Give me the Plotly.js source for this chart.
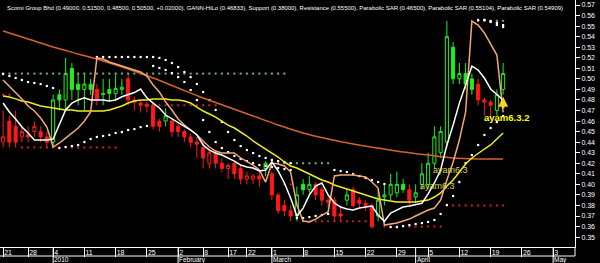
<!DOCTYPE html>
<html><head><meta charset="utf-8">
<script src="https://cdn.plot.ly/plotly-3.0.1.min.js"></script>
<style>html,body{margin:0;padding:0;background:#000;}#chart{width:600px;height:263px;}</style>
</head><body><div id="chart"></div>
<script>
// ---- tick labels ----
const weekTickIdx  = [0,4,8,13,18,23,28,32,36,39,43,48,53,58,63,68,73,78,83,88];
const weekTickText = ['21','28','4','11','18','25','2','8','17','22','1','8','15','22','29','5','12','19','26','3'];
const monthIdx  = [8,28,43,66,88];
const monthText = ['2010','February','March','April','May'];

// ---- candles (Scomi Group Bhd) ----
const open  = [.440,.460,.455,.445,.447,.450,.450,.445,.440,.485,.480,.510,.495,.490,.495,.490,.485,.490,.486,.490,
               .500,.480,.477,.476,.475,.460,.460,.460,.455,.450,.445,.440,.435,.420,.430,.420,.415,.420,.415,.405,
               .405,.408,.415,.410,.390,.380,.375,.370,.400,.395,.400,.395,.385,.385,.372,.385,.395,.385,.382,.380,
               .370,.388,.390,.392,.400,.395,.388,.400,.400,.420,.430,.440,.530,.500,.505,.500,.495,.480,.478,.470,.490];
const high  = [.470,.465,.470,.455,.455,.460,.455,.450,.485,.490,.520,.515,.505,.505,.500,.495,.500,.500,.505,.500,
               .505,.483,.480,.478,.478,.462,.472,.462,.458,.452,.448,.445,.440,.432,.432,.425,.420,.422,.418,.412,
               .410,.412,.422,.412,.392,.385,.380,.398,.405,.408,.402,.398,.390,.388,.380,.395,.398,.388,.385,.382,
               .395,.400,.410,.412,.405,.400,.400,.420,.430,.455,.455,.555,.535,.515,.515,.505,.500,.482,.480,.490,.515];
const low   = [.435,.435,.435,.440,.440,.445,.440,.435,.435,.470,.470,.480,.475,.470,.485,.475,.475,.480,.480,.485,
               .475,.470,.468,.468,.452,.450,.455,.445,.445,.440,.435,.425,.415,.415,.415,.412,.405,.405,.400,.400,
               .400,.398,.408,.385,.372,.370,.365,.365,.390,.392,.385,.380,.378,.365,.365,.380,.378,.378,.375,.358,
               .365,.380,.385,.388,.392,.380,.382,.395,.395,.415,.425,.435,.495,.495,.490,.485,.475,.465,.462,.465,.485];
const close = [.445,.440,.440,.450,.445,.455,.445,.440,.480,.480,.505,.490,.490,.495,.490,.480,.486,.486,.491,.492,
               .480,.478,.475,.474,.455,.455,.465,.450,.450,.445,.440,.438,.425,.430,.420,.415,.418,.410,.405,.408,
               .408,.405,.420,.390,.375,.375,.370,.390,.395,.400,.390,.385,.383,.370,.370,.390,.380,.382,.380,.360,
               .385,.390,.400,.400,.395,.385,.392,.410,.420,.445,.450,.540,.500,.505,.495,.490,.480,.478,.475,.485,.505];
// 1 = green (up trend colour), 0 = red
const trend = [0,0,0,0,0,0,0,0,1,1,1,1,1,1,1,0,1,1,1,1,
               0,0,0,0,0,0,1,0,0,0,0,0,0,0,0,0,0,0,0,0,
               0,0,1,0,0,0,0,1,1,1,0,0,0,0,0,1,0,0,0,0,
               1,1,1,1,1,0,1,1,1,1,1,1,1,1,1,1,0,0,0,1,1];

// ---- indicator lines ----
const maSlowIdx = [0,4,8,12,16,20,24,28,32,36,40,44,48,52,56,60,64,68,72,76,80];
const maSlow    = [.5453,.5378,.5302,.5236,.5169,.5093,.5008,.4913,.4818,.4733,.4648,.4562,.4487,.4430,.4382,.4344,.4306,.4278,.4250,.4241,.4241];
const maMid = [.4837,.4828,.4810,.4790,.4780,.4762,.4743,.4733,.4724,.4714,
               .4705,.4705,.4695,.4695,.4695,.4695,.4695,.4705,.4724,.4743,
               .4771,.4790,.4799,.4799,.4809,.4809,.4809,.4799,.4799,.4790,
               .4771,.4733,.4695,.4667,.4638,.4600,.4562,.4534,.4496,.4458,
               .4411,.4373,.4335,.4297,.4259,.4212,.4174,.4155,.4127,.4098,
               .4070,.4041,.4022,.3994,.3975,.3956,.3937,.3918,.3899,.3880,
               .3861,.3851,.3842,.3832,.3832,.3832,.3832,.3842,.3851,.3880,
               .3918,.3984,.4041,.4117,.4193,.4250,.4297,.4335,.4373,.4430,.4487];
const maFast = [.4771,.4686,.4620,.4543,.4487,.4420,.4420,.4420,.4430,.4560,
                .4705,.4770,.4800,.4820,.4800,.4800,.4800,.4790,.4800,.4830,
                .4850,.4870,.4904,.4820,.4770,.4724,.4657,.4620,.4591,.4550,
                .4515,.4470,.4373,.4325,.4297,.4278,.4250,.4220,.4183,.4164,
                .4155,.4127,.4136,.4212,.4127,.4013,.3870,.3700,.3775,.3900,
                .3984,.4013,.3900,.3823,.3785,.3766,.3757,.3775,.3785,.3795,
                .3710,.3650,.3728,.3757,.3785,.3795,.3810,.3820,.3910,.4013,
                .4136,.4373,.4562,.4770,.4942,.5120,.5084,.5008,.4904,.4856,.4800];
const gannHiLo = [.4989,.4932,.4875,.4809,.4743,.4695,.4629,.4543,.4354,.4392,
                  .4439,.4487,.4534,.4600,.4686,.5198,.5188,.5160,.5141,.5122,
                  .5103,.5084,.5065,.5027,.4942,.4875,.4780,.4705,.4620,.4562,
                  .4515,.4468,.4411,.4354,.4316,.4297,.4297,.4297,.4250,.4220,
                  .4183,.4136,.4022,.4202,.4193,.4174,.4117,.3804,.3652,.3643,
                  .3671,.3709,.3738,.4079,.4089,.4089,.4089,.4079,.4070,.4022,
                  .3965,.3614,.3624,.3633,.3652,.3671,.3700,.3728,.3757,.3775,
                  .3851,.4041,.4212,.4420,.4686,.5548,.5510,.5435,.5330,.5226,.4683];

// ---- parabolic SAR dots ----
const sarA = [.5046,.5027,.5008,.4989,.4970,.4961,.4951,.4932,.4913,
              .4344,.4354,.4363,.4373,.4401,.4430,.4449,.4458,.4468,.4487,.4496,.4515,.4524,.4543,.4553,
              .5122,.5103,.5084,.5055,.5017,.4970,.4894,.4799,.4610,.4496,.4401,.4344,.4306,.4269,.4240,.4221,.4202,.4183,.4174,.4164,.4155,.4145,.4136,
              .3681,.3681,.3690,.3700,.3709,.3719,
              .4136,.4126,.4117,.4098,.4079,.4060,.4041,.4022,.4003,
              .3595,.3595,.3605,.3614,.3624,.3633,.3643,.3662,.3719,.3804,.3889,.4022,.4202,.4278,.4373,.4468,.4534,.4591,.4648];
const sarB = [null,null,null,null,null,null,null,null,null,null,null,null,null,null,null,
              .5207,.5207,.5207,.5207,.5207,.5207,.5207,.5207,.5207,
              .5207,.5198,.5179,.5150,.5112,.5065,.5017,.4951,.4875,.4799,.4705,.4591,.4496,.4420,.4363,.4325,.4297,.4269,.4250,.4231,.4221,.4212,.4202,
              null,null,null,null,null,null,null,null,null,null,null,null,null,null,null,null,null,null,null,null,null,null,null,null,null,null,null,null,null,
              .5558,.5558,.5548,.5530,.5510];
const sarC = [null,null,null,null,null,null,null,null,null,null,null,null,null,null,null,null,null,null,null,null,
              null,null,null,null,null,null,null,null,null,null,null,null,null,null,null,null,null,null,null,null,
              null,null,null,null,null,null,null,null,null,null,null,null,null,null,null,null,null,null,null,null,
              null,null,null,null,null,null,null,null,null,null,null,null,null,null,null,null,null,
              .5558,.5539,.5510,.5491];

// ---- support / resistance levels (start day, end day, level) ----
const resStart = [0,44,76], resEnd = [45,52,80], resLevel = [.505,.420,.555];
const supStart = [0,3,22,45,48,61,71], supEnd = [1,18,34,46,58,70,80], supLevel = [.485,.435,.475,.400,.365,.360,.380];

// ---------------------------------------------------------------
const idx = open.map((_, i) => i);
const GREEN = '#22ee22', RED = '#ff1a1a';
function candleTrace(flag, col) {
  const s = idx.filter(i => trend[i] === flag);
  return {
    type: 'candlestick', x: s,
    open: s.map(i => open[i]), high: s.map(i => high[i]),
    low: s.map(i => low[i]), close: s.map(i => close[i]),
    increasing: {line: {color: col, width: 1}, fillcolor: '#000'},
    decreasing: {line: {color: col, width: 1}, fillcolor: col},
    whiskerwidth: 0, hoverinfo: 'skip', showlegend: false
  };
}
function levelTrace(st, en, lv, col) {
  const xs = [], ys = [];
  st.forEach((s, k) => { for (let i = s; i <= en[k]; i++) { xs.push(i); ys.push(lv[k]); } });
  return {type: 'scatter', mode: 'markers', x: xs, y: ys,
          marker: {symbol: 'square', size: 2, color: col, line: {width: 0}}, hoverinfo: 'skip', showlegend: false};
}
function dotTrace(arr) {
  const s = idx.filter(i => arr[i] !== null && arr[i] !== undefined);
  return {type: 'scatter', mode: 'markers', x: s, y: s.map(i => arr[i]),
          marker: {symbol: 'square', size: 2.2, color: '#ffffff', line: {width: 0}}, hoverinfo: 'skip', showlegend: false};
}
function lineTrace(xs, ys, col, shape) {
  return {type: 'scatter', mode: 'lines', x: xs, y: ys,
          line: {color: col, width: 1.5, shape: shape || 'linear', smoothing: 0.8}, hoverinfo: 'skip', showlegend: false};
}

const traces = [
  candleTrace(1, GREEN), candleTrace(0, RED),
  levelTrace(resStart, resEnd, resLevel, '#6fb86f'),
  levelTrace(supStart, supEnd, supLevel, '#d42020'),
  dotTrace(sarA), dotTrace(sarB), dotTrace(sarC),
  lineTrace(maSlowIdx, maSlow, '#d8622c', 'spline'),
  lineTrace(idx, maMid, '#eeee22'),
  lineTrace(idx, gannHiLo, '#f2a877'),
  lineTrace(idx, maFast, '#ffffff')
];

const F = 'Liberation Sans Narrow, Liberation Sans, Arial, sans-serif';
const plotH = 247;
const shapes = [
  {type: 'line', xref: 'paper', yref: 'paper', x0: 0, x1: 1, y0: -9 / plotH, y1: -9 / plotH, line: {color: '#fff', width: 1}},
  {type: 'line', xref: 'paper', yref: 'paper', x0: 1, x1: 1, y0: 0, y1: -9 / plotH, line: {color: '#fff', width: 1}}
];
monthIdx.forEach(m => shapes.push({type: 'line', xref: 'x', yref: 'paper', x0: m, x1: m, y0: 0, y1: -16 / plotH,
                                   line: {color: '#fff', width: 1}}));
const annotations = [
  {xref: 'paper', yref: 'paper', x: 0.008, y: 1, xanchor: 'left', yanchor: 'top', showarrow: false, yshift: -3,
   text: 'Scomi Group Bhd (0.49000, 0.51500, 0.48500, 0.50500, +0.02000), GANN-HiLo (0.46833), Support (0.38000), Resistance (0.55500), Parabolic SAR (0.46500), Parabolic SAR (0.55104), Parabolic SAR (0.54909)',
   font: {family: F, size: 5.95, color: '#ffffff'}},
  {xref: 'x', yref: 'y', x: 76.6, y: 0.4638, xanchor: 'left', yanchor: 'middle', showarrow: false,
   text: '<b>ayam6.3.2</b>', font: {family: 'Liberation Sans, Arial', size: 9.5, color: '#ffff00'}},
  {xref: 'x', yref: 'y', x: 68.5, y: 0.4136, xanchor: 'left', yanchor: 'middle', showarrow: false,
   text: 'ayam6.3', font: {family: 'Liberation Sans, Arial', size: 9, color: '#d6d650'}},
  {xref: 'x', yref: 'y', x: 66.4, y: 0.3984, xanchor: 'left', yanchor: 'middle', showarrow: false,
   text: 'ayam6.3', font: {family: 'Liberation Sans, Arial', size: 9, color: '#d6d650'}},
  {xref: 'x', yref: 'y', x: 80, y: 0.483, ax: 0, ay: 13, showarrow: true, text: '',
   arrowhead: 2, arrowsize: 0.8, arrowwidth: 2.5, arrowcolor: '#ffd21a'}
];
monthIdx.forEach((m, k) => annotations.push({xref: 'x', yref: 'paper', x: m, y: -12.6 / plotH, xanchor: 'left', yanchor: 'middle',
  xshift: 0, borderpad: 0, showarrow: false, text: monthText[k], font: {family: F, size: 6.5, color: '#ffffff'}}));

const layout = {
  width: 600, height: 263,
  margin: {l: 0, r: 25, t: 0, b: 16, pad: 0},
  paper_bgcolor: '#000', plot_bgcolor: '#000',
  showlegend: false,
  xaxis: {range: [-0.5, 91.5], showgrid: false, zeroline: false, rangeslider: {visible: false},
          tickmode: 'array', tickvals: weekTickIdx, ticktext: weekTickText,
          ticks: 'outside', ticklen: 9, tickwidth: 1, tickcolor: '#fff',
          ticklabelposition: 'outside right', ticklabelstandoff: -1,
          showline: true, linecolor: '#fff', linewidth: 1,
          tickfont: {family: F, size: 7, color: '#fff'}},
  yaxis: {range: [0.34062, 0.57474], side: 'right', showgrid: false, zeroline: false,
          tickmode: 'linear', tick0: 0.35, dtick: 0.01, tickformat: '.2f',
          ticks: 'outside', ticklen: 4, tickwidth: 1, tickcolor: '#fff',
          showline: true, linecolor: '#fff', linewidth: 1,
          tickfont: {family: F, size: 7, color: '#fff'}},
  shapes: shapes, annotations: annotations
};
Plotly.newPlot('chart', traces, layout, {staticPlot: true, displayModeBar: false});
</script></body></html>
